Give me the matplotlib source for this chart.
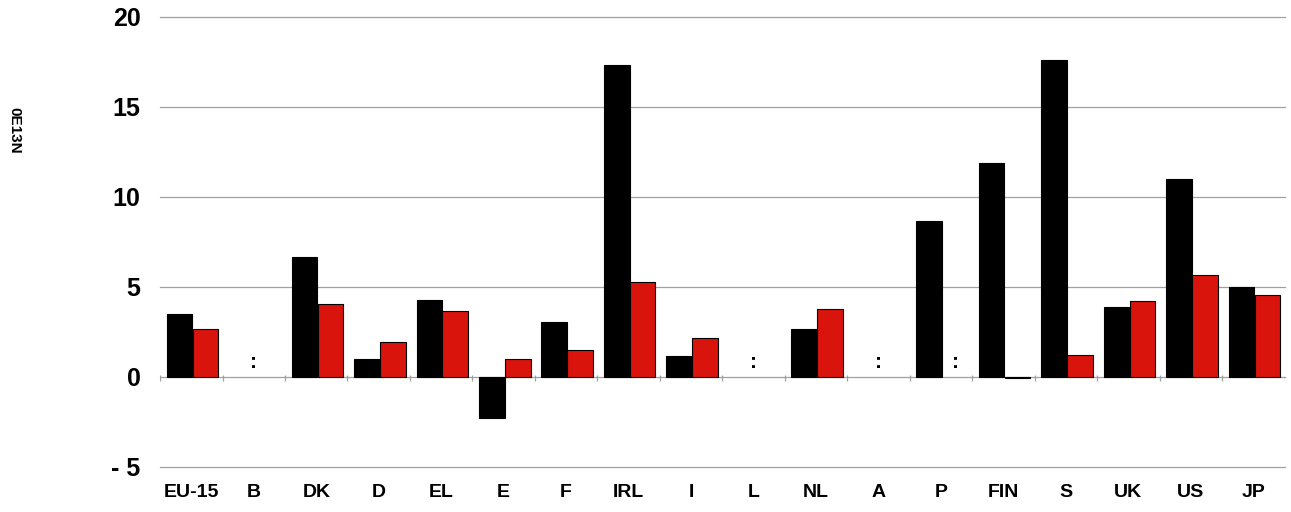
import matplotlib
matplotlib.use("Agg")
import matplotlib.pyplot as plt
import numpy as np

categories = ["EU-15", "B", "DK", "D", "EL", "E", "F", "IRL", "I", "L",
              "NL", "A", "P", "FIN", "S", "UK", "US", "JP"]
series_black = [3.5, None, 6.67, 1.0, 4.28, -2.28, 3.06, 17.33, 1.17, None,
                2.67, None, 8.67, 11.9, 17.6, 3.89, 11.0, 5.0]
series_red = [2.67, None, 4.05, 1.94, 3.67, 1.0, 1.5, 5.28, 2.17, None,
              3.78, None, None, -0.08, 1.22, 4.22, 5.67, 4.55]
yticks = [-5, 0, 5, 10, 15, 20]
ytick_labels = ["- 5", "0", "5", "10", "15", "20"]
side_label = "0E13N"

BLACK = "#000000"
RED = "#d8140c"

fig = plt.figure(figsize=(12.91, 5.12), dpi=100)
ax = fig.add_axes([0.124, 0.0879, 0.871, 0.8789])

x = np.arange(len(categories))
w = 0.41
off_b, off_r = -0.19, 0.225

for i, (b, r) in enumerate(zip(series_black, series_red)):
    if b is None and r is None:
        ax.text(x[i], 0.3, ":", ha="center", va="bottom", fontsize=15,
                fontweight="bold", family="Liberation Sans")
        continue
    if b is not None:
        ax.bar(x[i] + off_b, b, width=w, color=BLACK, edgecolor="black",
               linewidth=0.8, zorder=3)
    if r is not None:
        ax.bar(x[i] + off_r, r, width=w, color=RED, edgecolor="black",
               linewidth=0.8, zorder=3)
    else:
        ax.text(x[i] + off_r, 0.3, ":", ha="center", va="bottom", fontsize=15,
                fontweight="bold", family="Liberation Sans")

ax.set_xlim(-0.5, len(categories) - 0.5)
ax.set_ylim(-5, 20)

for yv in yticks:
    ax.axhline(yv, color="#a0a0a0", linewidth=0.9, zorder=1, clip_on=False)

bounds = np.arange(len(categories) + 1) - 0.5
ax.vlines(bounds, -0.25, 0.1, color="#a0a0a0", linewidth=0.9, zorder=2)

ax.set_yticks(yticks)
ax.set_yticklabels(ytick_labels, fontsize=18, fontweight="bold",
                   family="Liberation Sans")
ax.set_xticks(x)
ax.set_xticklabels(categories, fontsize=14, fontweight="bold",
                   family="Liberation Sans")
ax.tick_params(axis="y", length=0, pad=14)
ax.tick_params(axis="x", length=0, pad=12)
for s in ax.spines.values():
    s.set_visible(False)

fig.text(14 / 1291, 1 - 130 / 512, side_label, rotation=-90, ha="center",
         va="center", fontsize=11, fontweight="bold", family="Liberation Sans")

fig.savefig("out.png", dpi=100, facecolor="white")
